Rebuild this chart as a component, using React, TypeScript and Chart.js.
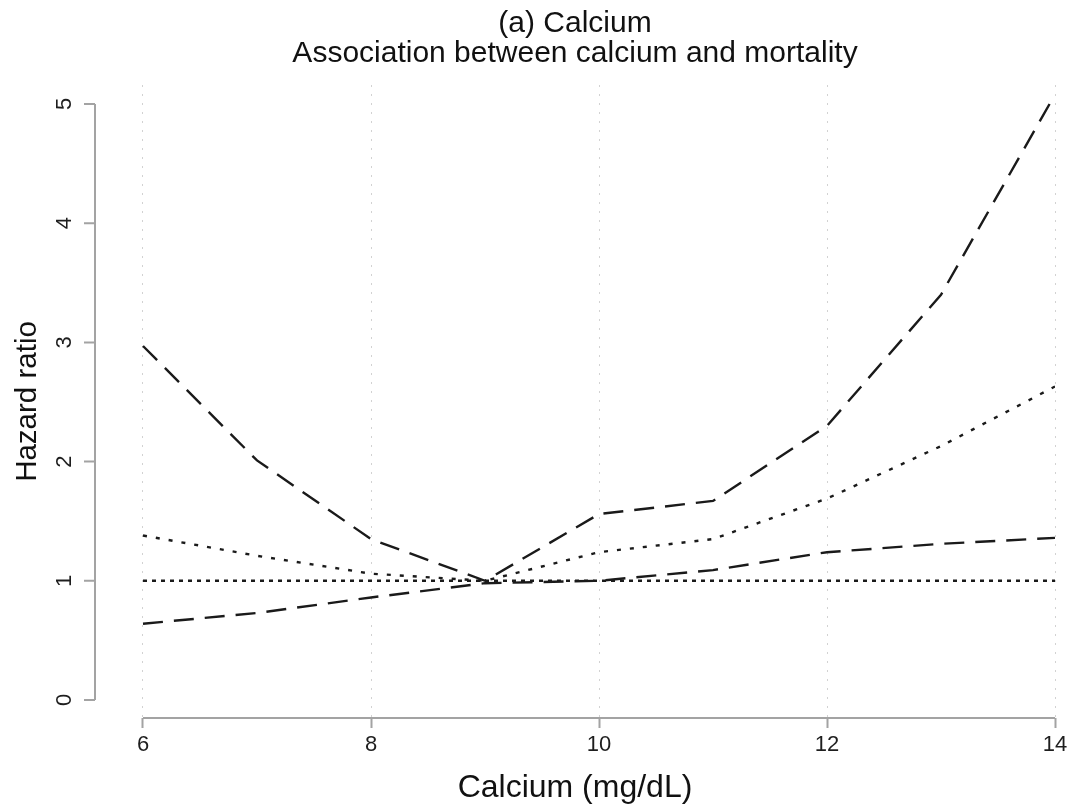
import React, { useEffect, useRef } from 'react';
import { Chart, registerables } from 'chart.js';

Chart.register(...registerables);

// ---- data ----
const calcium = [6, 7, 8, 9, 10, 11, 12, 13, 14];
const hrUpper = [2.97, 2.01, 1.35, 1.0, 1.56, 1.67, 2.3, 3.4, 5.08];
const hrEstimate = [1.38, 1.21, 1.06, 1.0, 1.24, 1.35, 1.69, 2.13, 2.63];
const hrLower = [0.64, 0.73, 0.86, 0.98, 1.0, 1.09, 1.24, 1.31, 1.36];
const hrReference = [1, 1, 1, 1, 1, 1, 1, 1, 1];
const xTickValues = [6, 8, 10, 12, 14];
const yTickValues = [0, 1, 2, 3, 4, 5];
const titleLines = ['(a) Calcium', 'Association between calcium and mortality'];
const xAxisTitle = 'Calcium (mg/dL)';
const yAxisTitle = 'Hazard ratio';

const FONT = '"Liberation Sans", Arial, Helvetica, sans-serif';
const AXIS_COLOR = '#a3a3a3';
const LINE_COLOR = '#1a1a1a';

const toPoints = (ys: number[]) => calcium.map((x, i) => ({ x, y: ys[i] }));

const statAxesPlugin = {
  id: 'statAxes',
  beforeDatasetsDraw(chart: any) {
    const { ctx, chartArea, scales } = chart;
    const xs = scales.x;
    const ys = scales.y;
    ctx.save();
    ctx.strokeStyle = AXIS_COLOR;
    ctx.lineWidth = 2;
    ctx.setLineDash([]);
    // y axis line (spans the tick range only)
    const ax = chartArea.left;
    const yTop = ys.getPixelForValue(yTickValues[yTickValues.length - 1]);
    const yBot = ys.getPixelForValue(yTickValues[0]);
    ctx.beginPath();
    ctx.moveTo(ax, yBot);
    ctx.lineTo(ax, yTop);
    yTickValues.forEach((v) => {
      const py = ys.getPixelForValue(v);
      ctx.moveTo(ax - 11, py);
      ctx.lineTo(ax, py);
    });
    // x axis line (spans tick range only)
    const ay = chartArea.bottom;
    ctx.moveTo(xs.getPixelForValue(xTickValues[0]), ay);
    ctx.lineTo(xs.getPixelForValue(xTickValues[xTickValues.length - 1]), ay);
    ctx.stroke();
    // rotated y tick labels
    ctx.fillStyle = '#1e1e1e';
    ctx.font = `22px ${FONT}`;
    ctx.textAlign = 'center';
    ctx.textBaseline = 'middle';
    yTickValues.forEach((v) => {
      const py = ys.getPixelForValue(v);
      ctx.save();
      ctx.translate(ax - 30, py);
      ctx.rotate(-Math.PI / 2);
      ctx.fillText(String(v), 0, 0);
      ctx.restore();
    });
    ctx.restore();
  },
};

export default function App() {
  const canvasRef = useRef<HTMLCanvasElement | null>(null);

  useEffect(() => {
    const canvas = canvasRef.current;
    if (!canvas) return;
    Chart.defaults.font.family = FONT;

    const lineDs = (label: string, ys: number[], dash: number[]) => ({
      label,
      data: toPoints(ys),
      borderColor: LINE_COLOR,
      backgroundColor: LINE_COLOR,
      borderWidth: 2.4,
      borderDash: dash,
      borderCapStyle: 'butt',
      pointRadius: 0,
      tension: 0,
      fill: false,
    });

    const chart = new Chart(canvas, {
      type: 'line',
      data: {
        datasets: [
          lineDs('Reference', hrReference, [4, 5]),
          lineDs('Lower 95% CI', hrLower, [20, 11]),
          lineDs('Hazard ratio', hrEstimate, [4, 9]),
          lineDs('Upper 95% CI', hrUpper, [20, 11]),
        ] as any,
      },
      options: {
        responsive: false,
        animation: false,
        devicePixelRatio: 1,
        layout: { padding: { top: 0, right: 20, bottom: 0, left: 0 } },
        plugins: {
          legend: { display: false },
          tooltip: { enabled: false },
          title: {
            display: true,
            text: titleLines,
            color: '#111',
            fullSize: false,
            font: { family: FONT, size: 30, weight: 'normal', lineHeight: 1.0 },
            padding: { top: 9, bottom: 16 },
          },
        },
        scales: {
          x: {
            type: 'linear',
            min: 6 - 48 / 114,
            max: 14,
            afterBuildTicks: (s: any) => {
              s.ticks = xTickValues.map((v) => ({ value: v }));
            },
            afterFit: (s: any) => {
              s.height = 89;
            },
            border: { display: false, dash: [2, 7] },
            grid: {
              display: true,
              drawOnChartArea: true,
              drawTicks: true,
              tickLength: 10,
              color: '#d2d2d2',
              lineWidth: 1,
              tickColor: AXIS_COLOR,
              tickWidth: 2,
              tickBorderDash: [],
            },
            ticks: {
              color: '#1e1e1e',
              font: { family: FONT, size: 22 },
              padding: 4,
              maxRotation: 0,
              autoSkip: false,
            },
            title: {
              display: true,
              text: xAxisTitle,
              color: '#111',
              font: { family: FONT, size: 32, lineHeight: 1.0 },
              padding: { top: 2, bottom: 3 },
            },
          },
          y: {
            type: 'linear',
            min: -18 / 119.2,
            max: 5 + 19 / 119.2,
            afterBuildTicks: (s: any) => {
              s.ticks = yTickValues.map((v) => ({ value: v }));
            },
            afterFit: (s: any) => {
              s.width = 95;
            },
            border: { display: false },
            grid: { display: false },
            ticks: { display: false },
            title: {
              display: true,
              text: yAxisTitle,
              color: '#111',
              font: { family: FONT, size: 29.5, lineHeight: 1.0 },
              padding: { top: 13, bottom: 0 },
            },
          },
        },
      } as any,
      plugins: [statAxesPlugin],
    });
    return () => chart.destroy();
  }, []);

  return (
    <div style={{ position: 'fixed', left: 0, top: 0, width: 1075, height: 807, background: '#fff' }}>
      <canvas ref={canvasRef} width={1075} height={807} />
    </div>
  );
}
